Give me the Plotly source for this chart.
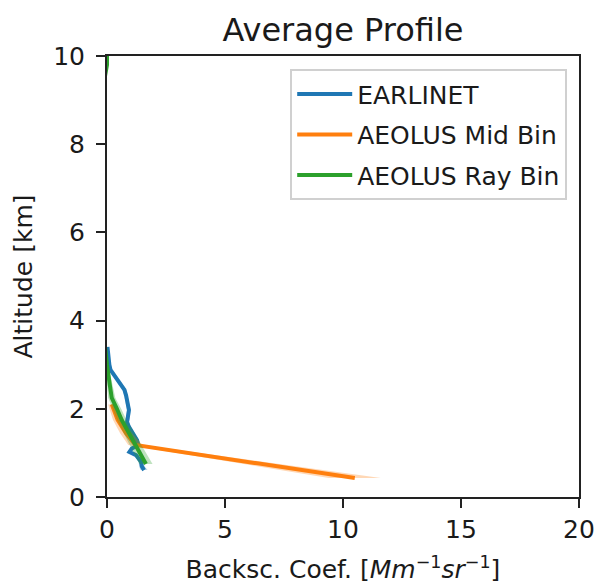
import plotly.graph_objects as go

# EARLINET average profile
earl_alt = [3.40, 3.20, 3.00, 2.88, 2.75, 2.65, 2.55, 2.43, 2.30, 2.13, 1.97, 1.80, 1.70,
            1.59, 1.45, 1.29, 1.18, 1.10, 1.02, 0.95, 0.80, 0.69, 0.61]
earl_val = [0.02, 0.05, 0.10, 0.15, 0.32, 0.45, 0.58, 0.74, 0.81, 0.86, 0.93, 0.88, 0.85,
            0.93, 1.08, 1.27, 1.33, 1.05, 0.95, 1.23, 1.44, 1.48, 1.57]
earl_err = [0.03, 0.04, 0.05, 0.06, 0.07, 0.08, 0.08, 0.08, 0.08, 0.08, 0.08, 0.08, 0.08,
            0.08, 0.08, 0.09, 0.09, 0.09, 0.09, 0.10, 0.10, 0.12, 0.15]

# AEOLUS Mid Bin
mid_alt = [0.43, 1.18, 1.45, 1.75, 2.10]
mid_val = [10.5, 1.20, 0.80, 0.45, 0.20]
mid_err = [1.10, 0.30, 0.25, 0.20, 0.15]

# AEOLUS Ray Bin
ray_alt = [0.75, 1.00, 1.25, 1.50, 1.75, 2.00, 2.25, 2.50, 2.75, 3.00, 3.50, 4.50,
           5.50, 6.50, 7.60, 8.50, 9.50, 9.80, 10.0]
ray_val = [1.65, 1.40, 1.13, 0.88, 0.62, 0.42, 0.20, 0.13, 0.06, 0.00, -0.10, -0.10,
           -0.10, -0.10, -0.10, -0.10, -0.10, 0.00, 0.00]
ray_err = [0.28, 0.26, 0.25, 0.22, 0.20, 0.18, 0.15, 0.12, 0.10, 0.05, 0.02, 0.01,
           0.01, 0.01, 0.01, 0.01, 0.01, 0.02, 0.02]

x_ticks = [0, 5, 10, 15, 20]
y_ticks = [0, 2, 4, 6, 8, 10]

series = [
    ("EARLINET", earl_alt, earl_val, earl_err, "#1f77b4", "rgba(31,119,180,0.3)"),
    ("AEOLUS Mid Bin", mid_alt, mid_val, mid_err, "#ff7f0e", "rgba(255,127,14,0.3)"),
    ("AEOLUS Ray Bin", ray_alt, ray_val, ray_err, "#2ca02c", "rgba(44,160,44,0.3)"),
]

fig = go.Figure()
for i, (name, alt, val, err, col, fcol) in enumerate(series):
    lo = [v - e for v, e in zip(val, err)]
    hi = [v + e for v, e in zip(val, err)]
    fig.add_trace(go.Scatter(
        x=lo + hi[::-1], y=alt + alt[::-1], fill="toself", fillcolor=fcol,
        line=dict(width=0, color=fcol), mode="lines", showlegend=False,
        hoverinfo="skip", legendgroup=name))
    fig.add_trace(go.Scatter(
        x=val, y=alt, mode="lines", name=name, legendgroup=name,
        line=dict(color=col, width=4)))

font_family = "DejaVu Sans"
fig.update_layout(
    width=598, height=584,
    margin=dict(l=107, r=19, t=56, b=87),
    paper_bgcolor="white", plot_bgcolor="white",
    font=dict(family=font_family, size=25, color="#1a1a1a"),
    title=dict(text="Average Profile", x=0.5, xref="paper", xanchor="center",
               y=1 - 30 / 584, yref="container", yanchor="middle",
               font=dict(size=32, family=font_family, color="#1a1a1a")),
    legend=dict(x=0.975, y=0.97, xanchor="right", yanchor="top",
                bgcolor="rgba(255,255,255,0.8)", bordercolor="#d0d0d0", borderwidth=2,
                font=dict(size=25, family=font_family, color="#1a1a1a"),
                tracegroupgap=5, itemwidth=55),
    showlegend=True,
)
fig.update_xaxes(
    range=[0, 20], tickvals=x_ticks, ticktext=[str(t) for t in x_ticks],
    showgrid=False, zeroline=False, showline=True, mirror=True, automargin=False,
    linecolor="#222222", linewidth=2, ticks="outside", ticklen=9, tickwidth=2,
    tickcolor="#222222",
    title=dict(text="Backsc. Coef. [<i>Mm</i><sup>−1</sup><i>sr</i><sup>−1</sup>]",
               standoff=19, font=dict(size=25)),
)
fig.update_yaxes(
    range=[0, 10], tickvals=y_ticks, ticktext=[str(t) for t in y_ticks],
    showgrid=False, zeroline=False, showline=True, mirror=True, automargin=False,
    linecolor="#222222", linewidth=2, ticks="outside", ticklen=9, tickwidth=2,
    tickcolor="#222222", ticklabelstandoff=6,
    title=dict(text="Altitude [km]", standoff=13, font=dict(size=25)),
)

fig.write_html("out.html")
